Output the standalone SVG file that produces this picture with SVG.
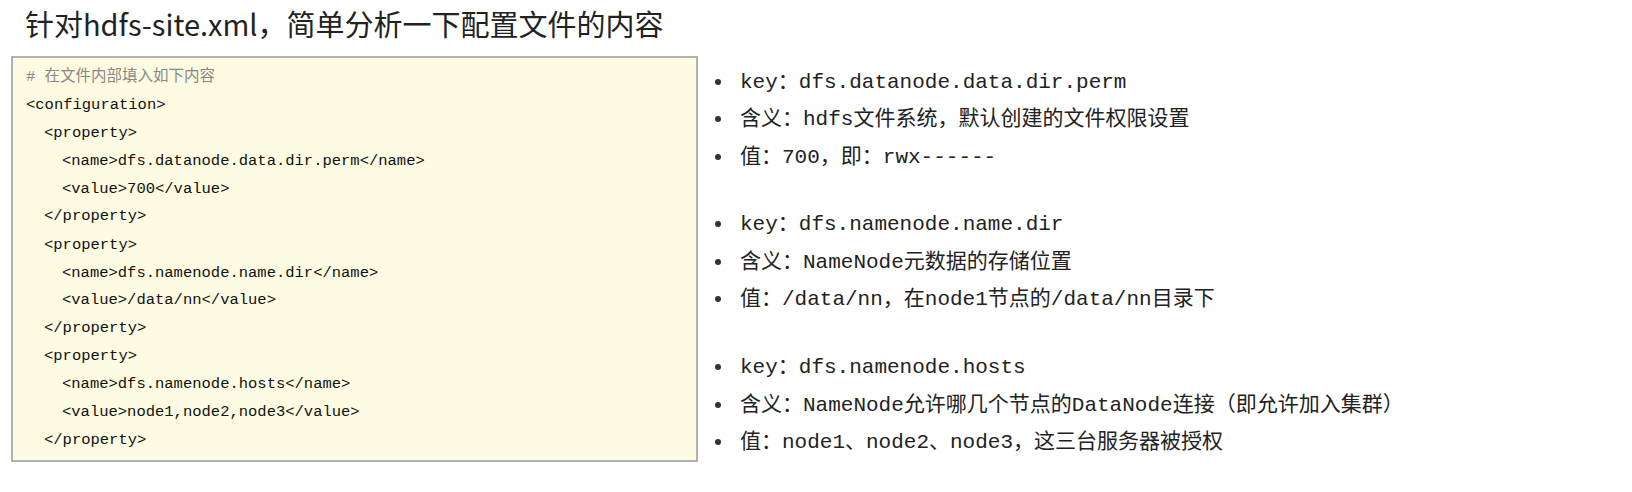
<svg xmlns="http://www.w3.org/2000/svg" width="1632" height="492" viewBox="0 0 1632 492">
<style>
.code{font-family:"Liberation Mono","Noto Sans CJK SC",monospace;font-size:15.5px;fill:#111}
.cm{fill:#888}
.r{font-family:"Liberation Mono","Noto Sans CJK SC",monospace;font-size:21px;fill:#222}
</style>
<rect width="1632" height="492" fill="#fff"/>
<text x="25" y="36" font-family="Noto Sans CJK SC, sans-serif" font-size="29" fill="#222">针对hdfs-site.xml，简单分析一下配置文件的内容</text>
<rect x="12" y="57" width="685" height="404" fill="#fdfbe1" stroke="#999" stroke-width="1.5"/>
<g class="code" xml:space="preserve">
<text x="26" y="81" class="code cm" font-size="16"># 在文件内部填入如下内容</text>
<text x="26" y="109">&lt;configuration&gt;</text>
<text x="44" y="137">&lt;property&gt;</text>
<text x="62" y="165">&lt;name&gt;dfs.datanode.data.dir.perm&lt;/name&gt;</text>
<text x="62" y="193">&lt;value&gt;700&lt;/value&gt;</text>
<text x="44" y="220">&lt;/property&gt;</text>
<text x="44" y="249">&lt;property&gt;</text>
<text x="62" y="277">&lt;name&gt;dfs.namenode.name.dir&lt;/name&gt;</text>
<text x="62" y="304">&lt;value&gt;/data/nn&lt;/value&gt;</text>
<text x="44" y="332">&lt;/property&gt;</text>
<text x="44" y="360">&lt;property&gt;</text>
<text x="62" y="388">&lt;name&gt;dfs.namenode.hosts&lt;/name&gt;</text>
<text x="62" y="416">&lt;value&gt;node1,node2,node3&lt;/value&gt;</text>
<text x="44" y="444">&lt;/property&gt;</text>
</g>
<g fill="#333">
<circle cx="718" cy="82" r="3"/><circle cx="718" cy="119" r="3"/><circle cx="718" cy="157" r="3"/>
<circle cx="718" cy="224" r="3"/><circle cx="718" cy="262" r="3"/><circle cx="718" cy="299" r="3"/>
<circle cx="718" cy="367" r="3"/><circle cx="718" cy="405" r="3"/><circle cx="718" cy="442" r="3"/>
</g>
<g class="r">
<text x="740" y="88">key：dfs.datanode.data.dir.perm</text>
<text x="740" y="125">含义：hdfs文件系统，默认创建的文件权限设置</text>
<text x="740" y="163">值：700，即：rwx------</text>
<text x="740" y="230">key：dfs.namenode.name.dir</text>
<text x="740" y="268">含义：NameNode元数据的存储位置</text>
<text x="740" y="305">值：/data/nn，在node1节点的/data/nn目录下</text>
<text x="740" y="373">key：dfs.namenode.hosts</text>
<text x="740" y="411">含义：NameNode允许哪几个节点的DataNode连接（即允许加入集群）</text>
<text x="740" y="448">值：node1、node2、node3，这三台服务器被授权</text>
</g>
</svg>
